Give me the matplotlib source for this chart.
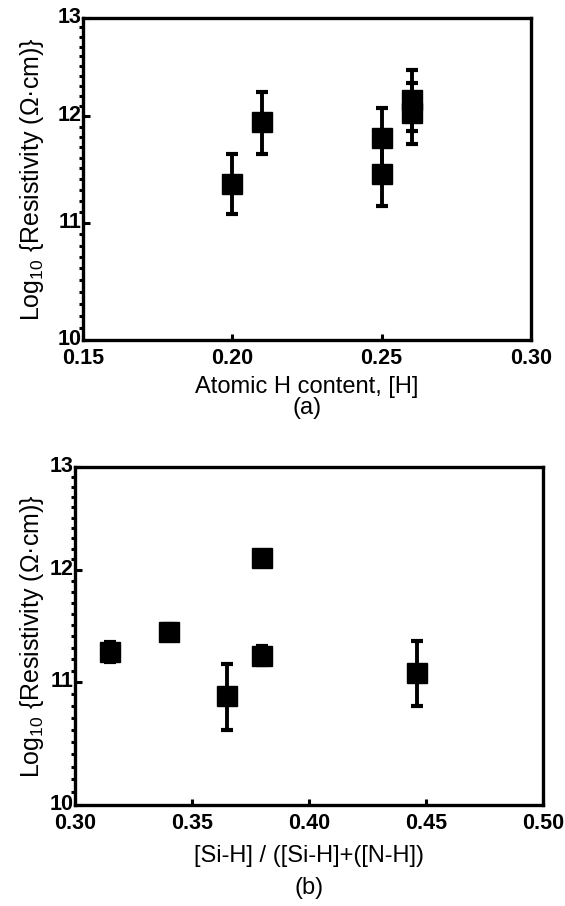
import matplotlib
matplotlib.use("Agg")
import matplotlib.pyplot as plt
import matplotlib.transforms as mtransforms
import numpy as np
from matplotlib.ticker import FixedLocator, FixedFormatter, NullFormatter

plt.rcParams.update({"font.family": ["Liberation Sans", "DejaVu Sans"],
                     "mathtext.fontset": "custom",
                     "mathtext.rm": "Liberation Sans",
                     "mathtext.it": "Liberation Sans"})

# (a) resistivity vs atomic H content
h_content = [0.20, 0.21, 0.25, 0.25, 0.26, 0.26]
res_a = [11.36, 11.94, 11.79, 11.45, 12.16, 12.03]
err_a = [0.28, 0.30, 0.29, 0.30, 0.30, 0.30]

# (b) resistivity vs bond ratio
bond_ratio = [0.315, 0.34, 0.365, 0.38, 0.38, 0.446]
res_b = [11.26, 11.44, 10.88, 12.11, 11.23, 11.08]
err_b = [0.09, 0.07, 0.28, 0.05, 0.08, 0.28]

y_major = [10, 11, 12, 13]
y_minor = [v for v in np.round(np.arange(10, 13.001, 0.1), 1) if v not in y_major]

fig = plt.figure(figsize=(5.65, 9.06), dpi=100)
W, H = 565, 906


def frame(x0, y0, x1, y1):
    return [x0 / W, 1 - y1 / H, (x1 - x0) / W, (y1 - y0) / H]


def style(ax, xticks, xlabels, ylab_x):
    ax.set_yscale("log")
    ax.set_ylim(10, 13)
    ax.yaxis.set_major_locator(FixedLocator(y_major))
    ax.yaxis.set_major_formatter(FixedFormatter([str(v) for v in y_major]))
    ax.yaxis.set_minor_locator(FixedLocator(y_minor))
    ax.yaxis.set_minor_formatter(NullFormatter())
    ax.set_xlim(xticks[0], xticks[-1])
    ax.set_xticks(xticks)
    ax.set_xticklabels(xlabels)
    for s in ax.spines.values():
        s.set_linewidth(2.4)
    ax.tick_params(axis="y", which="major", direction="in", length=5, width=2.2,
                   pad=1, labelsize=15.5)
    ax.tick_params(axis="y", which="minor", direction="out", length=3, width=2.2)
    ax.tick_params(axis="x", which="major", direction="in", length=4, width=2.2,
                   pad=6, labelsize=15.5)
    ax.tick_params(axis="x", which="minor", bottom=False)
    # the y numbers sit a touch above their ticks in the original
    lift = mtransforms.ScaledTranslation(0, 3 / 100, fig.dpi_scale_trans)
    for t in ax.get_yticklabels():
        t.set_transform(t.get_transform() + lift)
    for t in ax.get_xticklabels() + ax.get_yticklabels():
        t.set_fontweight("bold")
    ax.set_ylabel("Log$_{10}$ {Resistivity (Ω·cm)}", fontsize=18)
    ax.yaxis.set_label_coords(ylab_x, 0.5)


ax1 = fig.add_axes(frame(83, 18, 531, 340))
ax1.errorbar(h_content, res_a, yerr=err_a, fmt="s", color="black", ms=14,
             elinewidth=2.8, capsize=4, capthick=3)
style(ax1, [0.15, 0.20, 0.25, 0.30], ["0.15", "0.20", "0.25", "0.30"], -0.083)
ax1.set_xlabel("Atomic H content, [H]", fontsize=17, labelpad=5)
fig.text(307 / W, 1 - 408 / H, "(a)", ha="center", va="center", fontsize=17)

ax2 = fig.add_axes(frame(75, 467, 543, 805))
ax2.errorbar(bond_ratio, res_b, yerr=err_b, fmt="s", color="black", ms=14,
             elinewidth=2.8, capsize=4, capthick=3)
style(ax2, [0.30, 0.35, 0.40, 0.45, 0.50], ["0.30", "0.35", "0.40", "0.45", "0.50"], -0.062)
ax2.set_xlabel("[Si-H] / ([Si-H]+([N-H])", fontsize=17, labelpad=8)
fig.text(309 / W, 1 - 888 / H, "(b)", ha="center", va="center", fontsize=17)

fig.savefig("out.png", dpi=100, facecolor="white")
